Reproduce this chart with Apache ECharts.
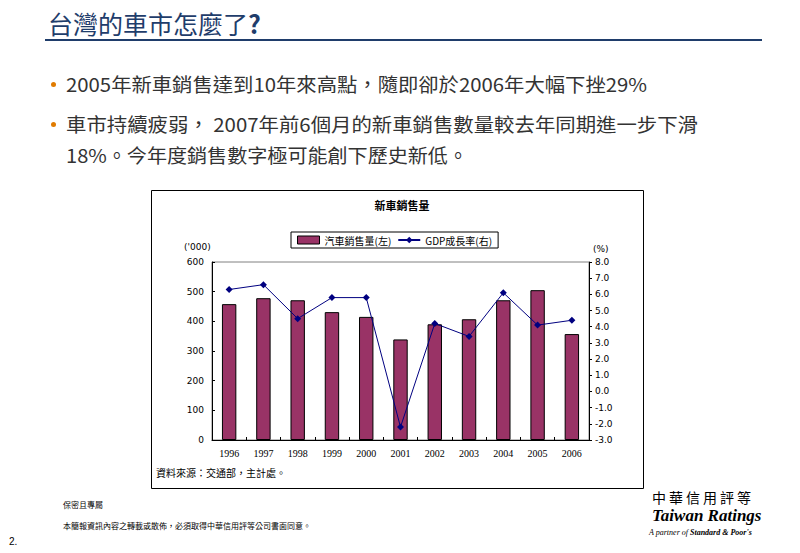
<!DOCTYPE html>
<html><head><meta charset="utf-8">
<script src="https://cdn.jsdelivr.net/npm/echarts@6/dist/echarts.min.js"></script>
<style>
html,body{margin:0;padding:0;background:#fff;width:800px;height:553px;overflow:hidden;font-family:"Noto Sans CJK TC","Noto Sans",sans-serif;}
#chart{position:absolute;left:0;top:0;width:800px;height:553px;}
.t{position:absolute;white-space:nowrap;}
</style></head>
<body>
<div id="chart"></div>
<script>
const years = ['1996','1997','1998','1999','2000','2001','2002','2003','2004','2005','2006'];
const carSales = [458, 478, 471, 431, 415, 339, 390, 407, 471, 505, 357];
const gdpGrowth = [6.3, 6.6, 4.5, 5.8, 5.8, -2.2, 4.2, 3.4, 6.1, 4.1, 4.4];
const leftTicks = {min: 0, max: 600, interval: 100};
const rightTicks = {min: -3, max: 8, interval: 1};

const pageTitle = '台灣的車市怎麼了?';
const bullets = [
  '2005年新車銷售達到10年來高點，隨即卻於2006年大幅下挫29%',
  '車市持續疲弱，  2007年前6個月的新車銷售數量較去年同期進一步下滑',
  '18%。今年度銷售數字極可能創下歷史新低。'
];

const cjk = '"Noto Sans CJK TC","Noto Sans",sans-serif';
const serif = '"Liberation Serif","DejaVu Serif",serif';
const sans = '"DejaVu Sans","Liberation Sans",sans-serif';

const chart = echarts.init(document.getElementById('chart'), null, {renderer: 'svg'});
const option = {
  animation: false,
  backgroundColor: '#fff',
  title: {
    text: '新車銷售量', left: 397, top: 194, textAlign: 'center',
    textStyle: {fontSize: 11, fontWeight: 'bold', fontFamily: cjk, color: '#000'}
  },
  legend: {
    left: 291, top: 232, width: 210, height: 18,
    itemGap: 6,
    padding: [3, 6, 3, 6],
    borderColor: '#000', borderWidth: 1,
    textStyle: {fontSize: 10, fontFamily: cjk, color: '#000'},
    data: [
      {name: '汽車銷售量(左)', icon: 'rect', itemStyle: {borderColor: '#000', borderWidth: 1}},
      {name: 'GDP成長率(右)'}
    ],
    itemWidth: 22, itemHeight: 8
  },
  grid: {left: 212, right: 211, top: 262, bottom: 113, show: true, borderColor: '#808080', borderWidth: 1},
  xAxis: {
    type: 'category', data: years, boundaryGap: true,
    axisLine: {lineStyle: {color: '#000', width: 1}},
    axisTick: {show: true, inside: true, length: 3, lineStyle: {color: '#000'}},
    axisLabel: {fontSize: 10, fontFamily: serif, color: '#000', margin: 8}
  },
  yAxis: [
    {
      type: 'value', min: leftTicks.min, max: leftTicks.max, interval: leftTicks.interval,
      axisLine: {show: true, lineStyle: {color: '#000'}},
      axisTick: {show: true, inside: true, length: 3, lineStyle: {color: '#000'}},
      splitLine: {show: false},
      axisLabel: {fontSize: 9, fontFamily: sans, color: '#000', margin: 8}
    },
    {
      type: 'value', min: rightTicks.min, max: rightTicks.max, interval: rightTicks.interval,
      position: 'right',
      axisLine: {show: true, lineStyle: {color: '#000'}},
      axisTick: {show: true, inside: false, length: 3, lineStyle: {color: '#000'}},
      splitLine: {show: false},
      axisLabel: {fontSize: 9, fontFamily: sans, color: '#000', margin: 6, formatter: v => v.toFixed(1)}
    }
  ],
  series: [
    {
      name: '汽車銷售量(左)', type: 'bar', data: carSales, yAxisIndex: 0,
      barWidth: '42%',
      itemStyle: {color: '#993366', borderColor: '#000', borderWidth: 1}
    },
    {
      name: 'GDP成長率(右)', type: 'line', data: gdpGrowth, yAxisIndex: 1,
      symbol: 'diamond', symbolSize: 7,
      lineStyle: {color: '#000080', width: 1},
      itemStyle: {color: '#000080'}
    }
  ],
  graphic: [
    {type: 'rect', shape: {x: 151.5, y: 190.5, width: 492, height: 298}, style: {fill: 'none', stroke: '#000', lineWidth: 1}, z: -1},
    {type: 'text', left: 184, top: 242, style: {text: "('000)", font: '9px ' + sans, fill: '#000'}},
    {type: 'text', left: 593, top: 244, style: {text: '(%)', font: '9px ' + sans, fill: '#000'}},
    {type: 'text', left: 156, top: 467, style: {text: '資料來源：交通部，主計處。', font: '10px ' + cjk, fill: '#000'}}
  ]
};
chart.setOption(option);
</script>
<div class="t" style="left:48px;top:7px;font-size:25px;color:#1F3D6B;font-family:'Noto Sans CJK TC',sans-serif;line-height:32px;">台灣的車市怎麼了<b>?</b></div>
<div style="position:absolute;left:45px;top:39px;width:717px;height:2px;background:#1F3D6B;"></div>
<div class="t" style="left:51px;top:82px;width:5px;height:5px;border-radius:50%;background:#E07B00;"></div>
<div class="t" style="left:51px;top:122px;width:5px;height:5px;border-radius:50%;background:#E07B00;"></div>
<div class="t" id="b1" style="left:66px;top:71px;font-size:19px;color:#333;line-height:26px;transform-origin:left top;"></div>
<div class="t" id="b2" style="left:66px;top:111px;font-size:19px;color:#333;line-height:26px;transform-origin:left top;"></div>
<div class="t" id="b3" style="left:66px;top:142px;font-size:19px;color:#333;line-height:26px;transform-origin:left top;"></div>
<div class="t" style="left:63px;top:500px;font-size:8px;line-height:10px;color:#000;">保密且專屬</div>
<div class="t" style="left:63px;top:521px;font-size:8px;line-height:10px;color:#000;">本簡報資訊內容之轉載或散佈，必須取得中華信用評等公司書面同意。</div>
<div class="t" style="left:9px;top:536px;font-size:10px;line-height:12px;color:#000;font-family:'Liberation Sans',sans-serif;">2.</div>
<div class="t" style="left:652px;top:490px;font-size:14px;line-height:15px;color:#000;font-family:'Noto Sans CJK TC',serif;letter-spacing:3px;">中華信用評等</div>
<div class="t" style="left:652px;top:507px;font-size:17px;line-height:18px;color:#000;font-family:'Liberation Serif',serif;font-weight:bold;font-style:italic;">Taiwan Ratings</div>
<div class="t" style="left:649px;top:528px;font-size:8px;line-height:9px;color:#000;font-family:'Liberation Serif',serif;font-style:italic;">A partner of <b>Standard &amp; Poor's</b></div>
<script>
const targets = [581, 632, 402];
['b1','b2','b3'].forEach((id, i) => {
  const el = document.getElementById(id);
  el.textContent = bullets[i];
  const w = el.getBoundingClientRect().width;
  el.style.transform = 'scaleX(' + (targets[i] / w) + ')';
});
</script>
</body></html>
